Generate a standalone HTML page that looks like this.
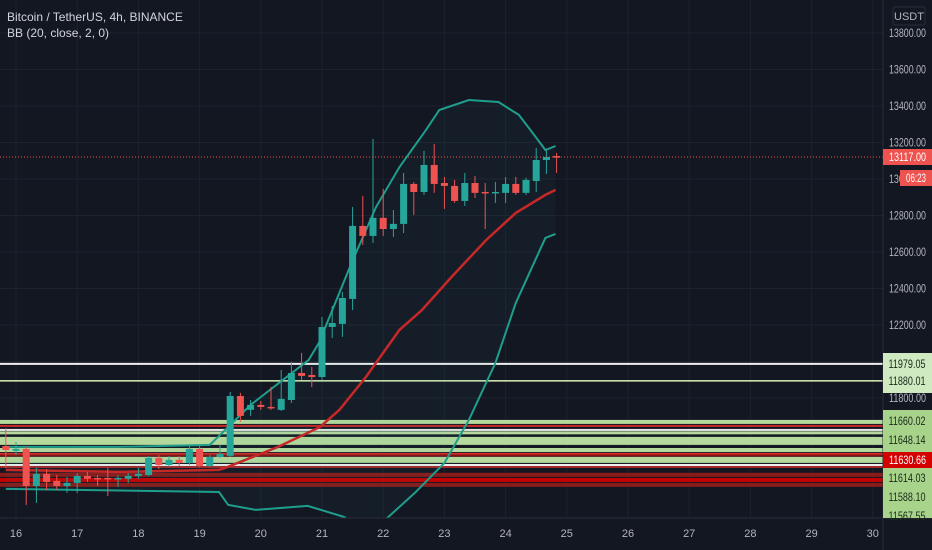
<!DOCTYPE html>
<html><head><meta charset="utf-8"><style>
body{margin:0;background:#131722;overflow:hidden}
svg{display:block}
text{font-family:"Liberation Sans",sans-serif}
</style></head><body>
<svg id="chart" width="932" height="550" viewBox="0 0 932 550" xmlns="http://www.w3.org/2000/svg">
<defs><clipPath id="plotClip"><rect x="0" y="0" width="883" height="518"/></clipPath></defs>
<rect width="932" height="550" fill="#131722"/>
<g clip-path="url(#plotClip)">
<g id="grid"></g>
<g id="levels"></g>
<g id="bb"></g>
<g id="candles"></g>
</g>
<line x1="0" x2="883" y1="157" y2="157" stroke="#ef5350" stroke-width="1" stroke-dasharray="1,2"/>
<rect x="883" y="0" width="49" height="550" fill="#131722"/>
<line x1="883" x2="883" y1="0" y2="550" stroke="#2a2e39"/>
<line x1="0" x2="932" y1="518" y2="518" stroke="#2a2e39"/>
<g id="yaxis"></g>
<g id="xaxis"></g>
<g id="levelLabels"></g>
<rect x="893" y="7" width="32" height="18" rx="2" fill="#131722" stroke="#2a2e39"/>
<text x="909" y="20" font-size="11" fill="#b2b5be" text-anchor="middle">USDT</text>
<text x="7" y="21" font-size="12" fill="#d1d4dc">Bitcoin / TetherUS, 4h, BINANCE</text>
<text x="7" y="37" font-size="12" fill="#d1d4dc">BB (20, close, 2, 0)</text>
</svg>
<script>
const opens=[11537,11510,11521,11318,11384,11346,11318,11335,11373,11362,11362,11357,11357,11373,11378,11472,11433,11461,11444,11521,11428,11477,11483,11811,11735,11762,11751,11735,11789,11937,11926,11915,12189,12206,12343,12743,12688,12787,12726,12754,12973,12929,13077,12978,12962,12880,12978,12929,12924,12924,12973,12924,12989,13104,13126];
const highs=[11636,11559,11532,11417,11411,11378,11368,11389,11395,11378,11417,11378,11389,11417,11482,11488,11482,11482,11537,11543,11488,11543,11833,11828,11789,11784,11860,11954,11998,12047,11970,12244,12304,12381,12847,12907,13219,12946,12830,13033,12984,13154,13192,13011,12995,13033,13017,12978,12984,13011,13011,13006,13170,13159,13143];
const lows=[11417,11488,11214,11225,11296,11296,11280,11280,11340,11318,11263,11313,11335,11357,11373,11411,11422,11428,11433,11422,11422,11472,11477,11669,11702,11735,11735,11729,11773,11899,11860,11899,12129,12135,12282,12639,12650,12688,12682,12704,12803,12913,12924,12836,12869,12852,12896,12726,12869,12869,12913,12913,12929,13028,13033];
const closes=[11515,11521,11318,11384,11340,11318,11335,11373,11357,11357,11354,11362,11373,11384,11472,11433,11461,11444,11521,11428,11477,11494,11811,11702,11762,11751,11746,11795,11937,11921,11915,12189,12211,12348,12743,12688,12787,12726,12754,12973,12929,13077,12973,12962,12880,12978,12924,12924,12929,12973,12924,12995,13104,13121,13117];
const upperIdx=[0,11,20,22,24,29.7,30.7,33.9,36.3,38.6,41.2,42.5,45.4,48.3,50.3,51.8,52.9,53.9];
const upperVal=[11532,11532,11543,11652,11762,12009,12102,12540,12847,13066,13269,13378,13433,13422,13351,13241,13159,13181];
const midIdx=[0,11,20.9,21.5,26.7,30.8,32.7,35.3,38.6,40.8,43.7,47.1,50,52.9,53.9];
const midVal=[11406,11395,11406,11417,11532,11641,11734,11915,12173,12282,12463,12666,12814,12913,12940];
const lowerIdx=[0,20.9,21.8,24.5,29.6,33.2,35.3,37.5,40.1,43,45.4,48,50,52.9,53.9];
const lowerVal=[11302,11285,11214,11187,11209,11148,11050,11148,11280,11444,11680,11992,12321,12677,12699];
const levelPrices=[11987,11894,11669,11647,11625,11609,11565,11515,11494,11485,11461,11433,11422,11379,11351,11324];
const priceTicks=[13800,13600,13400,13200,13000,12800,12600,12400,12200,12000,11800];
const dayLabels=["16","17","18","19","20","21","22","23","24","25","26","27","28","29","30"];

const levelStyle=[["#f0f0f0",2],["#d9f2b8",1.5],["#b5d99c",4],["#c62828",2],["#e8e8e8",2],["#b5d99c",3],["#b5d99c",8],["#b5d99c",4],["#d32f2f",2],["#8b1010",2],["#b5d99c",6],["#f0f0f0",2],["#d32f2f",1.5],["#8b1a1a",4],["#c40000",4],["#8b1a1a",4]];
const NS="http://www.w3.org/2000/svg";
function y(p){return 33+(13800-p)*0.1825;}
function x(i){return 16+(i-1)*10.2;}
function el(tag,attrs,parent){const e=document.createElementNS(NS,tag);for(const k in attrs)e.setAttribute(k,attrs[k]);parent.appendChild(e);return e;}
const grid=document.getElementById('grid');
priceTicks.forEach(p=>{const l=el('line',{x1:0,x2:883,y1:y(p),y2:y(p),stroke:'#1e222d'},grid);

});
dayLabels.forEach((d,k)=>{const l=el('line',{x1:x(1+k*6),x2:x(1+k*6),y1:0,y2:518,stroke:'#1e222d'},grid);

});
const lv=document.getElementById('levels');
levelPrices.forEach((p,k)=>{const r=el('rect',{x:0,width:883,y:y(p)-levelStyle[k][1]/2,height:levelStyle[k][1],fill:levelStyle[k][0]},lv);

});
const bb=document.getElementById('bb');
function pts(ix,vals){return ix.map((i,k)=>x(i).toFixed(1)+','+y(vals[k]).toFixed(1));}
const fillPts=pts(upperIdx,upperVal).concat(pts(lowerIdx,lowerVal).reverse()).join(' ');
const f=el('polygon',{points:fillPts,fill:'rgba(38,166,154,0.05)'},bb);


const up=el('polyline',{points:pts(upperIdx,upperVal).join(' '),fill:'none',stroke:'#1f9e8c','stroke-width':2},bb);


const lo=el('polyline',{points:pts(lowerIdx,lowerVal).join(' '),fill:'none',stroke:'#1f9e8c','stroke-width':2},bb);


const md=el('polyline',{points:pts(midIdx,midVal).join(' '),fill:'none',stroke:'#c62828','stroke-width':2.5},bb);


const cg=document.getElementById('candles');
opens.forEach((o,i)=>{const c=closes[i];const col=c>=o?'#26a69a':'#ef5350';const cx=x(i);
const g=el('g',{},cg);


el('line',{x1:cx,x2:cx,y1:y(highs[i]),y2:y(lows[i]),stroke:col,'stroke-width':1},g);
const t=Math.min(y(o),y(c)),h=Math.max(1.5,Math.abs(y(o)-y(c)));
el('rect',{x:cx-3.5,y:t,width:7,height:h,fill:col},g);});
const ya=document.getElementById('yaxis');
priceTicks.forEach(p=>{const t=el('text',{x:889,y:y(p)+4,'font-size':12,fill:'#b2b5be',textLength:37,lengthAdjust:'spacingAndGlyphs'},ya);t.textContent=p.toFixed(2);

});
const xa=document.getElementById('xaxis');
dayLabels.forEach((d,k)=>{const t=el('text',{x:x(1+k*6),y:537,'font-size':11,fill:'#b2b5be','text-anchor':'middle'},xa);t.textContent=d;

});
const ll=document.getElementById('levelLabels');
function box(yy,h,fill,txt,tc,name,w,x0){const r=el('rect',{x:x0||883,y:yy,width:w||49,height:h,fill:fill},ll);


if(txt){const t=el('text',{x:(x0||883)+((w||49)/2),y:yy+h/2+4,'font-size':12,fill:tc,'text-anchor':'middle',textLength:(w||49)-12,lengthAdjust:'spacingAndGlyphs'},ll);t.textContent=txt;

}}
box(353,40,'#cfe9c0','','','level-box-top');
box(410,108,'#a8d38a','','','level-box-bottom');
[["11979.05",364],["11880.01",381],["11660.02",421],["11648.14",440],["11614.03",478],["11588.10",497],["11567.55",516]].forEach(a=>{
const t=el('text',{x:907,y:a[1]+4,'font-size':12,fill:'#1b2a1b','text-anchor':'middle',textLength:37,lengthAdjust:'spacingAndGlyphs'},ll);t.textContent=a[0];

});
box(452,16,'#d50000','11630.66','#ffffff','level-current-label');
box(149,16,'#ef5350','13117.00','#ffffff','last-price-label');
box(170,16,'#ef5350','06:23','#ffffff','countdown-label',32,900);
</script>
</body></html>
